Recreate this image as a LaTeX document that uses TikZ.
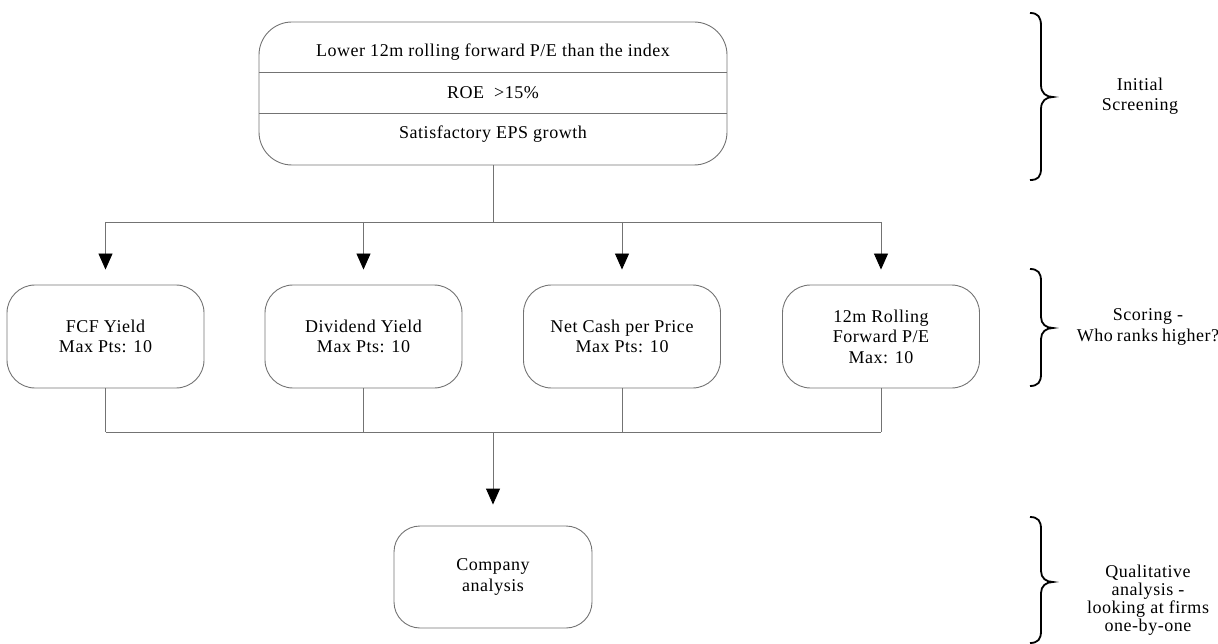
\documentclass[tikz,border=0pt]{standalone}
\usepackage{fontspec}
\setmainfont{Liberation Serif}[LetterSpace=3]
\usetikzlibrary{arrows.meta}
\tikzset{
  ln/.style={draw=black!55, line width=0.9pt},
  rbox/.style={ln, rounded corners=28pt, minimum width=197pt, minimum height=103pt, align=center, inner sep=2pt},
  txt/.style={align=center, inner sep=1pt, font=\fontsize{18}{20.5}\selectfont},
  arr/.style={ln, -{Triangle[length=16pt,width=14pt]}, arrows={[color=black, fill=black]}},
  bracestyle/.style={draw=black, line width=1.8pt},
}
\begin{document}
\begin{tikzpicture}[x=1pt,y=-1pt, font=\fontsize{18}{20.5}\selectfont]
\useasboundingbox (0,0) rectangle (1218,644);
% top screening box
\node[ln, rounded corners=33pt, minimum width=468pt, minimum height=143pt, inner sep=0pt] (top) at (493,93.5) {};
\draw[ln] (259,72) -- (727,72);
\draw[ln] (259,113) -- (727,113);
\node[txt] (r1) at (493,52) {Lower 12m rolling forward P/E than the index};
\node[txt] (r2) at (493,93) {ROE \ >15\%};
\node[txt] (r3) at (493,134) {Satisfactory EPS growth};
% scoring boxes
\node[rbox] (b1) at (105.5,336.5) {FCF Yield\\Max Pts: 10};
\node[rbox] (b2) at (363.5,336.5) {Dividend Yield\\Max Pts: 10};
\node[rbox] (b3) at (622,336.5) {Net Cash per Price\\Max Pts: 10};
\node[rbox] (b4) at (881,336.5) {12m Rolling\\Forward P/E\\Max: 10};
% company box
\node[rbox, minimum width=198pt, minimum height=102pt, rounded corners=26pt] (ca) at (493,577) {Company\\analysis};
% connectors top
\coordinate (j1) at (493,222);
\draw[ln] (top.south) -- (j1);
\draw[ln] (b1.north |- j1) -- (b4.north |- j1);
\foreach \b in {b1,b2,b3,b4}{
  \draw[arr, shorten >=15pt] (\b.north |- j1) -- (\b.north);
}
% connectors bottom
\coordinate (j2) at (493,432);
\foreach \b in {b1,b2,b3,b4}{
  \draw[ln] (\b.south) -- (\b.south |- j2);
}
\draw[ln] (b1.south |- j2) -- (b4.south |- j2);
\draw[arr, shorten >=21pt] (j2) -- (ca.north);
% braces
\draw[bracestyle] (1030,13) .. controls (1038,13) and (1041,17) .. (1041,26) -- (1041,85) .. controls (1041,93) and (1046,97) .. (1053,97) .. controls (1046,97) and (1041,101) .. (1041,109) -- (1041,168) .. controls (1041,177) and (1038,180) .. (1030,180);
\draw[bracestyle] (1030,269) .. controls (1038,269) and (1041,273) .. (1041,281) -- (1041,317) .. controls (1041,324) and (1046,328) .. (1053,328) .. controls (1046,328) and (1041,332) .. (1041,339) -- (1041,374) .. controls (1041,382) and (1038,386) .. (1030,386);
\draw[bracestyle] (1030,517) .. controls (1038,517) and (1041,521) .. (1041,529) -- (1041,571) .. controls (1041,578) and (1046,582) .. (1053,582) .. controls (1046,582) and (1041,586) .. (1041,593) -- (1041,631) .. controls (1041,639) and (1038,643) .. (1030,643);
% brace labels
\node[txt] (l1) at (1140,96) {Initial\\Screening};
\node[txt] (l2) at (1148,327) {Scoring -\\Who\hspace{4pt}ranks\hspace{4pt}higher?};
\node[txt, font=\fontsize{18}{18}\selectfont] (l3) at (1148,600) {Qualitative\\analysis -\\looking at firms\\one-by-one};
\end{tikzpicture}
\end{document}
